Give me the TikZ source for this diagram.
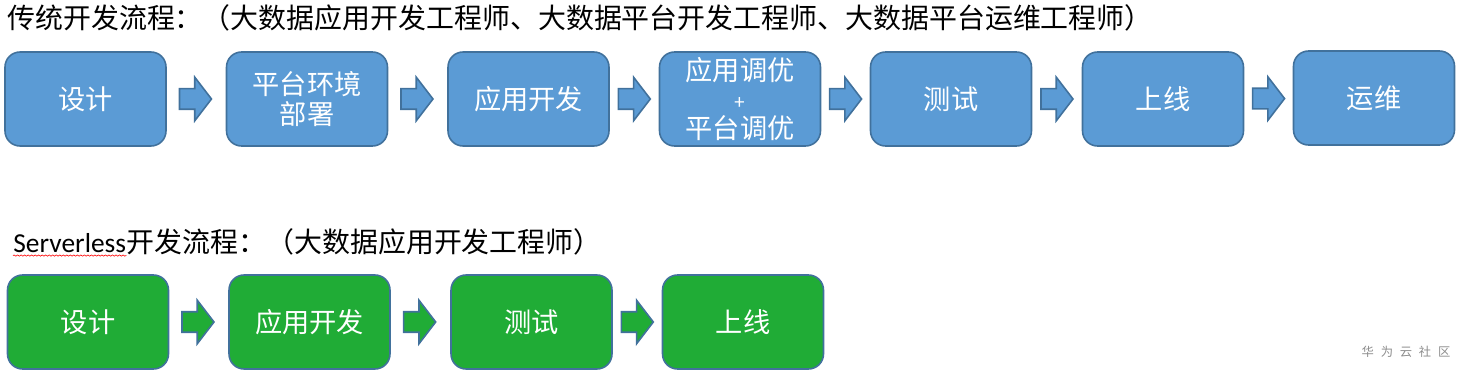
\documentclass[tikz,border=0pt]{standalone}
\usepackage{fontspec}
\usepackage{tikz}
\usetikzlibrary{shapes.arrows,calc,positioning,decorations.pathmorphing}
\newfontfamily\cjk{Noto Sans CJK SC}
\newfontfamily\latinfont{Carlito}
\definecolor{stepblue}{HTML}{5B9BD5}
\definecolor{stepgreen}{HTML}{20AC36}
\definecolor{edgeblue}{HTML}{41719C}
\definecolor{markgray}{HTML}{8C8C8C}
\tikzset{
  stepbox/.style={draw=edgeblue, line width=0.9pt, rounded corners=0.3cm,
    minimum width=3.22cm, minimum height=1.88cm, inner sep=0pt, align=center,
    text=white, font=\cjk\fontsize{15.5}{17}\selectfont},
  flowarrow/.style={single arrow, draw=edgeblue, line width=0.9pt, inner sep=0pt,
    text height=0.19cm, text depth=0.19cm, minimum height=0.64cm,
    single arrow head extend=0.23cm, single arrow tip angle=105},
  headline/.style={inner sep=0pt, font=\cjk\fontsize{15.9}{18}\selectfont}
}

\begin{document}
\begin{tikzpicture}[x=0.02cm, y=-0.02cm]
\useasboundingbox (0,0) rectangle (1459,374);

% titles
\node[headline, anchor=base west] (oldtitle) at (7,29)
  {传统开发流程：（大数据应用开发工程师、大数据平台开发工程师、大数据平台运维工程师）};
\node[inner sep=0pt, anchor=base west, font=\latinfont\fontsize{15.6}{18}\selectfont] (srvword) at (13,253) {Serverless};
\node[headline, anchor=base west] (newtitle) at (srvword.base east) {开发流程：（大数据应用开发工程师）};
\draw[red, line width=0.35pt, decorate, decoration={snake, amplitude=0.35pt, segment length=2pt}]
  ($(srvword.south west)+(0,2)$) -- ($(srvword.south east)+(0,2)$);

% traditional flow
\node[stepbox, fill=stepblue] (old1) at (85.5,99) {设计};
\node[stepbox, fill=stepblue] (old2) at (307,99) {平台环境\\部署};
\node[stepbox, fill=stepblue] (old3) at (528.5,99) {应用开发};
\node[stepbox, fill=stepblue, font=\cjk\fontsize{15.5}{16.5}\selectfont] (old4) at (740,99)
  {应用调优\\{\fontsize{11}{11}\selectfont +}\\平台调优};
\node[stepbox, fill=stepblue] (old5) at (951,99) {测试};
\node[stepbox, fill=stepblue] (old6) at (1163,99) {上线};
\node[stepbox, fill=stepblue] (old7) at (1374,98) {运维};

\node[flowarrow, fill=stepblue] (oa1) at ($(old1.east)!0.42!(old2.west)$) {};
\node[flowarrow, fill=stepblue] (oa2) at ($(old2.east)!0.42!(old3.west)$) {};
\node[flowarrow, fill=stepblue] (oa3) at ($(old3.east)!0.42!(old4.west)$) {};
\node[flowarrow, fill=stepblue] (oa4) at ($(old4.east)!0.42!(old5.west)$) {};
\node[flowarrow, fill=stepblue] (oa5) at ($(old5.east)!0.42!(old6.west)$) {};
\node[flowarrow, fill=stepblue] (oa6) at ($(old6.east)!0.42!(old7.west)$) {};

% serverless flow
\node[stepbox, fill=stepgreen] (new1) at (88,322) {设计};
\node[stepbox, fill=stepgreen] (new2) at (309.5,322) {应用开发};
\node[stepbox, fill=stepgreen] (new3) at (531.5,322) {测试};
\node[stepbox, fill=stepgreen] (new4) at (743,322) {上线};

\node[flowarrow, fill=stepgreen] (na1) at ($(new1.east)!0.42!(new2.west)$) {};
\node[flowarrow, fill=stepgreen] (na2) at ($(new2.east)!0.42!(new3.west)$) {};
\node[flowarrow, fill=stepgreen] (na3) at ($(new3.east)!0.42!(new4.west)$) {};

% watermark
\node[inner sep=0pt, text=markgray, font=\cjk\fontsize{7}{8}\selectfont] (mark) at (1406,352)
  {华\hspace{0.55em}为\hspace{0.55em}云\hspace{0.55em}社\hspace{0.55em}区};
\end{tikzpicture}
\end{document}
